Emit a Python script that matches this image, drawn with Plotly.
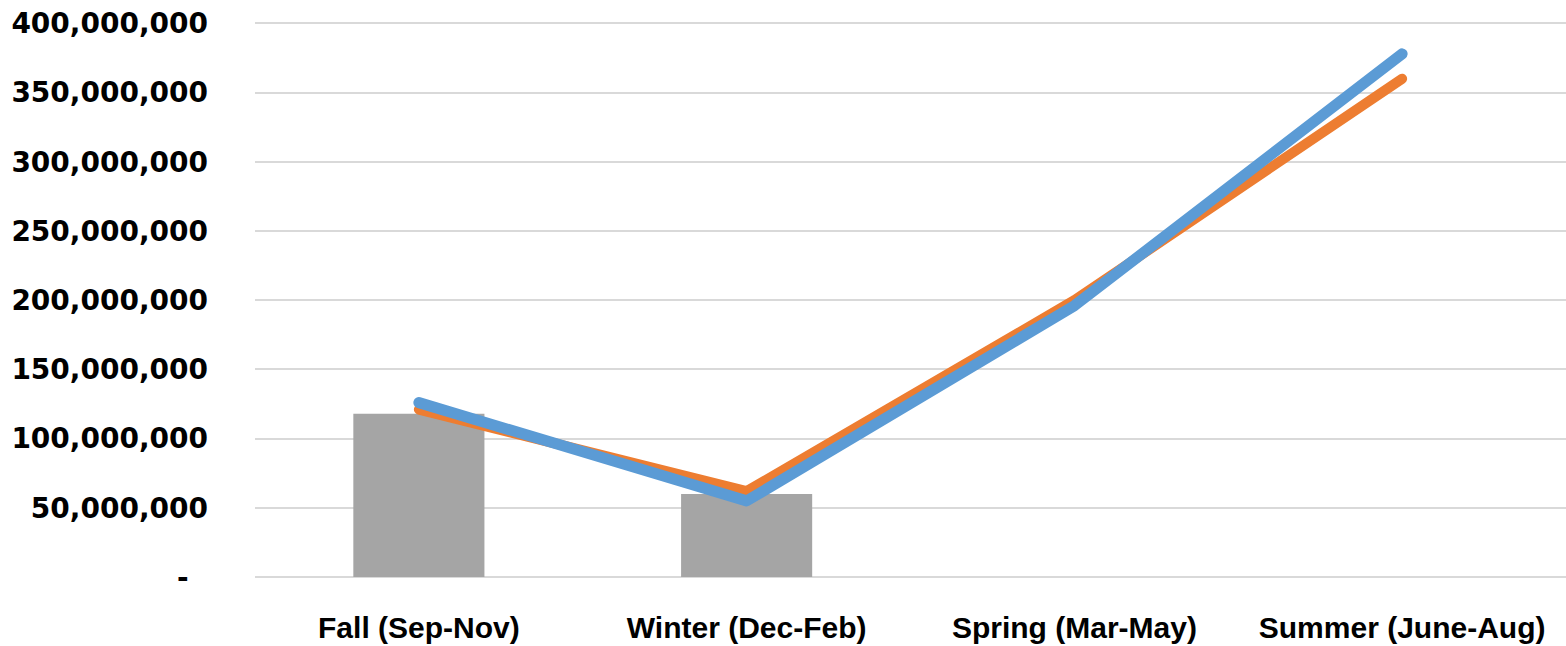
import plotly.graph_objects as go

categories = ["Fall (Sep-Nov)", "Winter (Dec-Feb)", "Spring (Mar-May)", "Summer (June-Aug)"]
bar_values = [118_000_000, 60_000_000, None, None]
orange_values = [121_000_000, 62_000_000, 200_000_000, 360_000_000]
blue_values = [126_000_000, 55_000_000, 196_000_000, 378_000_000]
y_tickvals = [0, 50_000_000, 100_000_000, 150_000_000, 200_000_000,
              250_000_000, 300_000_000, 350_000_000, 400_000_000]
y_ticktext = ["-\u00a0\u00a0", "50,000,000", "100,000,000", "150,000,000", "200,000,000",
              "250,000,000", "300,000,000", "350,000,000", "400,000,000"]

fig = go.Figure()
fig.add_trace(go.Bar(x=categories, y=bar_values, marker=dict(color="#a5a5a5", line=dict(width=0)),
                     showlegend=False))
fig.add_trace(go.Scatter(x=categories, y=orange_values, mode="lines",
                         line=dict(color="#ed7d31", width=10), showlegend=False))
fig.add_trace(go.Scatter(x=categories, y=blue_values, mode="lines",
                         line=dict(color="#5b9bd5", width=11), showlegend=False))

fig.update_layout(
    width=1566, height=646,
    margin=dict(l=255, r=0, t=22, b=69),
    plot_bgcolor="white", paper_bgcolor="white",
    bargap=0.6,
    hovermode=False,
    xaxis=dict(showgrid=False, showline=False, zeroline=False, automargin=False,
               tickfont=dict(family="Liberation Sans", size=30, color="black", weight="bold"),
               ticklabelstandoff=30, ticks=""),
    yaxis=dict(range=[0, 401_000_000], tickvals=y_tickvals, ticktext=y_ticktext,
               automargin=False,
               showgrid=True, gridcolor="#d9d9d9", gridwidth=2,
               zeroline=True, zerolinecolor="#d9d9d9", zerolinewidth=2,
               tickfont=dict(family="DejaVu Sans", size=28, color="black", weight="bold"),
               ticklabelstandoff=46, ticks=""),
)

fig.write_html("out.html", config={"displayModeBar": False},
               post_script="document.body.style.margin='0';document.body.style.padding='0';document.body.style.overflow='hidden';document.querySelectorAll('.scatterlayer path.js-line').forEach(function(p){p.style.strokeLinecap='round';p.style.strokeLinejoin='round';});")
